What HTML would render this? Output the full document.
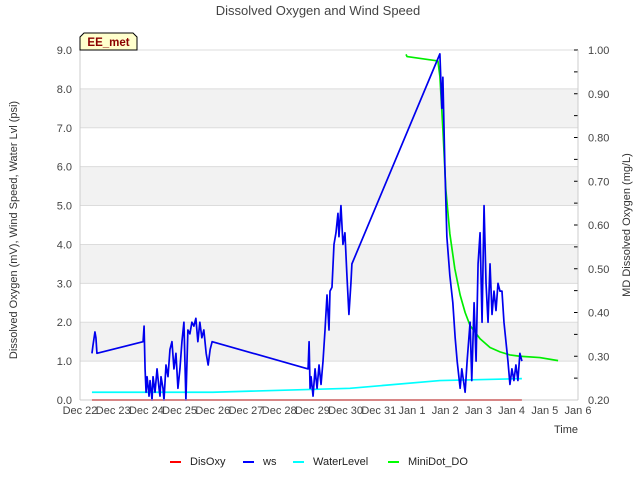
<!DOCTYPE html>
<html><head><meta charset="utf-8"><style>
body{margin:0;background:#fff;font-family:"Liberation Sans",sans-serif;}
svg text{font-family:"Liberation Sans",sans-serif;}
</style></head><body>
<svg id="c" width="640" height="480" viewBox="0 0 640 480" xmlns="http://www.w3.org/2000/svg">
<g id="bg"></g><g id="grid"></g><g id="series"></g><g id="axes"></g>
<text x="318" y="15" text-anchor="middle" font-size="13" fill="#444">Dissolved Oxygen and Wind Speed</text>
<text transform="translate(17,230) rotate(-90)" text-anchor="middle" font-size="11" fill="#333">Dissolved Oxygen (mV), Wind Speed, Water Lvl (psi)</text>
<text transform="translate(630,225) rotate(-90)" text-anchor="middle" font-size="11" fill="#333">MD Dissolved Oxygen (mg/L)</text>
<text x="566" y="433" text-anchor="middle" font-size="11" fill="#333">Time</text>
<g>
<polygon points="80,50 80,37 84,33 133,33 137,37 137,50" fill="#ffffcc" stroke="#000" stroke-width="1"/>
<text x="108.5" y="46" text-anchor="middle" font-size="11.5" font-weight="bold" fill="#8b0000">EE_met</text>
</g>
<g id="legend"></g>
</svg>
<script>
const xTicks=["Dec 22","Dec 23","Dec 24","Dec 25","Dec 26","Dec 27","Dec 28","Dec 29","Dec 30","Dec 31","Jan 1","Jan 2","Jan 3","Jan 4","Jan 5","Jan 6"];
const yLeftTicks=[0,1,2,3,4,5,6,7,8,9];
const yRightTicks=[0.2,0.3,0.4,0.5,0.6,0.7,0.8,0.9,1.0];
// ws: time in days since Dec 22, values
const wsT=[0.36,0.39,0.45,0.48,0.51,
1.9,1.93,1.96,1.99,2.02,2.08,2.11,2.17,2.2,2.26,2.32,2.38,2.41,2.44,2.5,2.53,2.59,2.65,2.71,2.77,2.83,2.89,2.95,3.01,3.07,3.13,3.19,3.25,3.31,3.37,3.43,3.49,3.55,3.61,3.67,3.73,3.8,3.86,3.92,3.98,
6.87,6.9,6.93,6.96,7.02,7.08,7.14,7.2,7.26,7.32,7.38,7.44,7.5,7.53,7.59,7.65,7.71,7.77,7.8,7.86,7.92,7.98,8.04,8.1,8.16,8.19,
10.84,10.9,10.93,10.99,11.05,11.14,11.23,11.3,11.36,11.45,11.5,11.6,11.66,11.75,11.8,11.87,11.93,11.99,12.05,12.11,12.17,12.23,12.29,12.35,12.41,12.47,12.53,12.59,12.65,12.71,12.77,12.83,12.89,12.95,13.01,13.07,13.13,13.19,13.25,13.31];
const wsV=[1.2,1.4,1.75,1.6,1.2,
1.5,1.9,0.8,0.2,0.6,0.1,0.5,0.0,0.6,0.2,0.8,0.3,0.1,0.6,0.3,0.0,0.9,0.6,1.3,1.5,0.8,1.2,0.3,0.8,1.5,2.0,0.0,1.8,1.7,2.0,1.9,2.1,1.5,2.0,1.6,1.8,1.2,0.9,1.3,1.5,
0.8,1.5,0.3,0.6,0.1,0.8,0.3,0.9,0.4,1.0,1.8,2.7,1.8,2.8,2.9,4.0,4.3,4.8,4.2,5.0,4.0,4.3,3.2,2.2,3.0,3.5,
8.9,7.5,8.3,6.0,4.2,3.2,2.5,1.6,1.0,0.3,0.8,0.2,1.0,2.0,0.5,2.5,1.0,3.5,4.3,2.0,5.0,3.0,2.0,3.5,2.2,2.8,2.3,3.0,2.8,2.8,2.0,1.5,1.0,0.4,0.8,0.5,0.9,0.5,1.2,1.0];
const wlT=[0.36,4.0,8.13,10.84,13.31];
const wlV=[0.2,0.2,0.3,0.5,0.55];
const doT=[0.36,13.31];
const doV=[0,0];
const mdT=[9.82,9.85,10.78,10.84,10.93,11.02,11.14,11.29,11.45,11.6,11.75,12.05,12.35,12.65,12.95,13.25,13.85,14.4];
const mdV=[0.99,0.985,0.975,0.94,0.82,0.68,0.58,0.5,0.44,0.4,0.37,0.34,0.32,0.31,0.303,0.3,0.297,0.29];
const L=80,R=578,T=50,B=400,NS="http://www.w3.org/2000/svg";
const xs=d=>L+d*(R-L)/15, yl=v=>B-v*(B-T)/9, yr=v=>B-(v-0.2)*(B-T)/0.8;
function el(p,tag,a){const e=document.createElementNS(NS,tag);for(const k in a)e.setAttribute(k,a[k]);document.getElementById(p).appendChild(e);return e;}
for(let i=1;i<9;i+=2){const r=el('bg','rect',{x:L,y:yl(i+1),width:R-L,height:yl(i)-yl(i+1),fill:'#f2f2f2'});

}
yLeftTicks.forEach(v=>{const g=el('grid','line',{x1:L,x2:R,y1:yl(v),y2:yl(v),stroke:'#dcdcdc'});


const t=el('axes','text',{x:L-8,y:yl(v)+4,'text-anchor':'end','font-size':'11',fill:'#444'});t.textContent=v.toFixed(1);

});
yRightTicks.forEach(v=>{const t=el('axes','text',{x:R+10,y:yr(v)+4,'font-size':'11',fill:'#444'});t.textContent=v.toFixed(2);


el('axes','line',{x1:R,x2:R-4,y1:yr(v),y2:yr(v),stroke:'#000'});
if(v<1){const m=yr(v+0.05);el('axes','line',{x1:R,x2:R-4,y1:m,y2:m,stroke:'#000'});}});
xTicks.forEach((s,i)=>{const t=el('axes','text',{x:xs(i),y:414,'text-anchor':'middle','font-size':'11',fill:'#444'});t.textContent=s;

});
el('axes','line',{x1:L,x2:L,y1:T,y2:B,stroke:'#ccc'});
el('axes','line',{x1:R,x2:R,y1:T,y2:B,stroke:'#ccc'});
el('axes','line',{x1:L,x2:R,y1:B,y2:B,stroke:'#ccc'});
function line(ts,vs,yf,col,name){const p=el('series','polyline',{points:ts.map((t,i)=>xs(t)+','+yf(vs[i])).join(' '),fill:'none',stroke:col,'stroke-width':'1.7','stroke-linejoin':'round'});

}
line(doT,doV,yl,'#dd0000','disoxy-line');
line(wlT,wlV,yl,'#00ffff','waterlevel-line');
line(mdT,mdV,yr,'#00ee00','minidot-do-line');
line(wsT,wsV,yl,'#0000ee','ws-line');
[["DisOxy","#ff0000",170],["ws","#0000ff",243],["WaterLevel","#00ffff",293],["MiniDot_DO","#00ff00",388]].forEach(([n,c,x])=>{
el('legend','line',{x1:x,x2:x+11,y1:462,y2:462,stroke:c,'stroke-width':'2'});
const t=el('legend','text',{x:x+20,y:465,'font-size':'11',fill:'#222'});t.textContent=n;

});
</script>
</body></html>
